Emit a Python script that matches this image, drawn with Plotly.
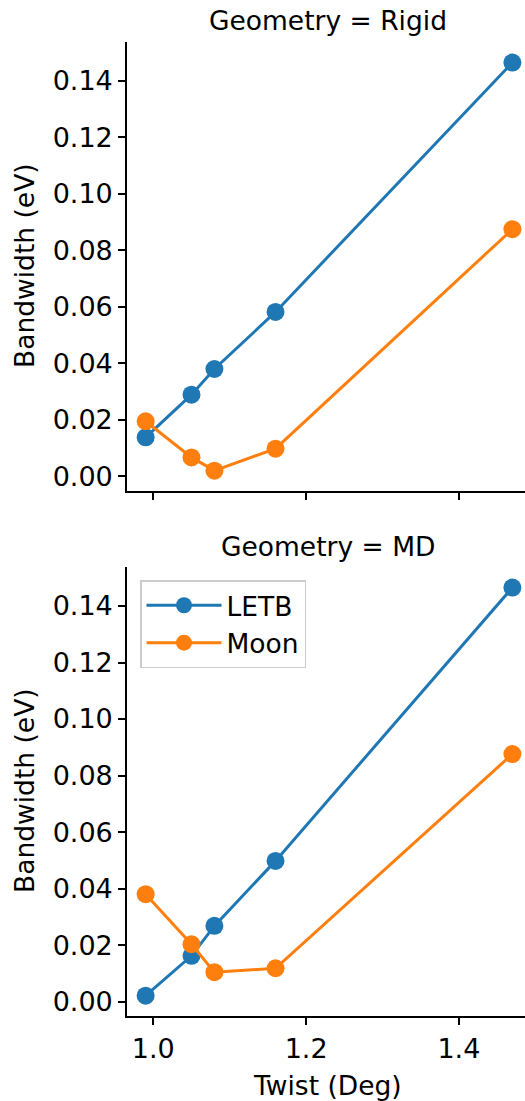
import plotly.graph_objects as go

twist = [0.99, 1.05, 1.08, 1.16, 1.47]
rigid_letb = [0.0138, 0.0289, 0.0380, 0.0582, 0.1465]
rigid_moon = [0.0195, 0.0067, 0.0020, 0.0098, 0.0875]
md_letb = [0.0021, 0.0162, 0.0268, 0.0498, 0.1465]
md_moon = [0.0380, 0.0203, 0.0104, 0.0118, 0.0876]
panel_titles = ["Geometry = Rigid", "Geometry = MD"]
series_names = ["LETB", "Moon"]
y_ticks = [0.00, 0.02, 0.04, 0.06, 0.08, 0.10, 0.12, 0.14]
x_ticks = [1.0, 1.2, 1.4]

W, H = 525, 1101
BLUE, ORANGE = "#1f77b4", "#ff7f0e"
FONT = "DejaVu Sans"
FS = 26.5

fig = go.Figure()

def add(x, y, name, color, xa, ya, show):
    fig.add_trace(go.Scatter(
        x=x, y=y, name=name, mode="lines+markers",
        line=dict(color=color, width=3),
        marker=dict(color=color, size=18),
        xaxis=xa, yaxis=ya, showlegend=show, legendgroup=name,
    ))

add(twist, rigid_letb, series_names[0], BLUE, "x2", "y2", False)
add(twist, rigid_moon, series_names[1], ORANGE, "x2", "y2", False)
add(twist, md_letb, series_names[0], BLUE, "x", "y", True)
add(twist, md_moon, series_names[1], ORANGE, "x", "y", True)

xdom = [127 / W, 1.0]
top_dom = [1 - 491 / H, 1 - 41.7 / H]
bot_dom = [1 - 1016.3 / H, 1 - 566.7 / H]
xr = [0.9656, 1.4865]
yr = [-0.0052, 0.1539]

axis_common = dict(
    showgrid=False, zeroline=False, showline=True, linecolor="black",
    linewidth=1.6, ticks="outside", ticklen=7, tickwidth=1.6, tickcolor="black",
    tickfont=dict(family=FONT, size=27, color="black"),
)

fig.update_layout(
    width=W, height=H,
    margin=dict(l=0, r=0, t=0, b=0),
    paper_bgcolor="white", plot_bgcolor="white",
    font=dict(family=FONT, size=FS, color="black"),
    xaxis=dict(domain=xdom, range=xr, anchor="y", tickvals=x_ticks,
               ticktext=["1.0", "1.2", "1.4"], **axis_common),
    yaxis=dict(domain=bot_dom, range=yr, anchor="x", tickvals=y_ticks,
               ticktext=[f"{v:.2f}" for v in y_ticks], **axis_common),
    xaxis2=dict(domain=xdom, range=xr, anchor="y2", tickvals=x_ticks,
                showticklabels=False, matches="x", **axis_common),
    yaxis2=dict(domain=top_dom, range=yr, anchor="x2", tickvals=y_ticks,
                ticktext=[f"{v:.2f}" for v in y_ticks], **axis_common),
    legend=dict(
        x=140 / W, y=1 - 580 / H, xanchor="left", yanchor="top",
        bgcolor="white", bordercolor="#cccccc", borderwidth=1.5,
        font=dict(family=FONT, size=FS, color="black"),
        itemwidth=75, tracegroupgap=0,
    ),
    showlegend=True,
)

ann = []
ann.append(dict(text=panel_titles[0], x=(127 + 528) / 2 / W, y=1 - 20 / H,
                xref="paper", yref="paper", xanchor="center", yanchor="middle",
                showarrow=False, font=dict(family=FONT, size=FS, color="black")))
ann.append(dict(text=panel_titles[1], x=(127 + 528) / 2 / W, y=1 - 546 / H,
                xref="paper", yref="paper", xanchor="center", yanchor="middle",
                showarrow=False, font=dict(family=FONT, size=FS, color="black")))
for yc in [266, 791]:
    ann.append(dict(text="Bandwidth (eV)", x=24 / W, y=1 - yc / H,
                    xref="paper", yref="paper", xanchor="center", yanchor="middle",
                    textangle=-90, showarrow=False,
                    font=dict(family=FONT, size=FS, color="black")))
ann.append(dict(text="Twist (Deg)", x=(127 + 528) / 2 / W, y=1 - 1085 / H,
                xref="paper", yref="paper", xanchor="center", yanchor="middle",
                showarrow=False, font=dict(family=FONT, size=FS, color="black")))
fig.update_layout(annotations=ann)

fig.write_html("out.html")
